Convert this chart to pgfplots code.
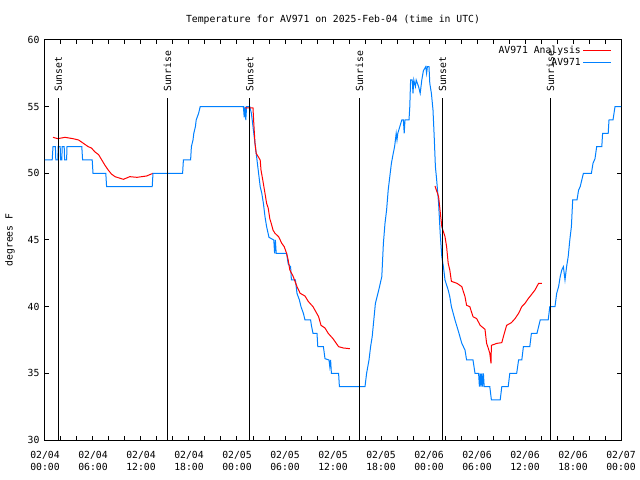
\documentclass[border=0pt]{standalone}
\usepackage{pgfplots}
\pgfplotsset{compat=1.18}
\usepackage{fontspec}
\setmainfont{DejaVu Sans Mono}
\definecolor{avblue}{RGB}{0,128,255}
\newcommand{\gfont}{\fontsize{9.8}{12}\selectfont}
\begin{document}
\begin{tikzpicture}
\begin{axis}[name=ax, scale only axis, width=576bp, height=400bp,
  xmin=0, xmax=72, ymin=30, ymax=60,
  font=\gfont,
  /pgf/number format/assume math mode=true,
  xtick={0,6,...,72}, minor x tick num=2, ytick={30,35,...,60},
  xticklabels={02/04\\00:00,02/04\\06:00,02/04\\12:00,02/04\\18:00,02/05\\00:00,02/05\\06:00,02/05\\12:00,02/05\\18:00,02/06\\00:00,02/06\\06:00,02/06\\12:00,02/06\\18:00,02/07\\00:00},
  xticklabel style={align=center, font=\gfont, yshift=-8bp},
  yticklabel style={font=\gfont, xshift=-2bp},
  tick align=inside, major tick length=4bp, minor tick length=4bp,
  tick style={black, line width=1bp},
  axis line style={line width=1bp},
  title={Temperature for AV971 on 2025-Feb-04 (time in UTC)},
  title style={at={(axis description cs:0.5,1)}, yshift=14bp, anchor=center, font=\gfont},
  ylabel={degrees F},
  ylabel style={at={(axis description cs:-0.0608,0.5)}, anchor=center, font=\gfont},
  legend plot pos=right, legend cell align=right,
  legend style={draw=none, fill=none, at={(axis description cs:1,1)}, anchor=north east, xshift=-6bp, yshift=-2bp, font=\gfont, row sep=-1bp},
  legend image code/.code={\draw[#1] (0bp,0bp) -- (28bp,0bp);},
]
% AV971 Analysis (red)
\addplot[red, line width=1bp] coordinates {
(1.0,52.7) (1.6,52.6) (2.5,52.7) (3.5,52.6) (4.2,52.5) (4.8,52.25) (5.4,52) (5.8,51.9) (6.25,51.6) (6.7,51.4) (7.1,51) (7.5,50.6) (7.9,50.25) (8.3,49.95) (8.75,49.75) (9.8,49.55) (10.6,49.75) (11.5,49.7) (12.7,49.8) (13.5,50.0)
};
\addlegendentry{AV971 Analysis}
% AV971 (blue)
\addplot[avblue, line width=1bp] coordinates {
(0,51) (0.9,51) (1.0,52) (1.3,52) (1.35,51) (1.6,51) (1.65,52) (1.9,52) (1.95,51) (2.1,51) (2.15,52) (2.4,52) (2.45,51) (2.7,51) (2.75,52) (4.6,52) (4.7,51) (5.9,51) (6.0,50) (7.6,50) (7.7,49) (13.4,49) (13.5,50) (17.2,50) (17.3,51) (18.2,51) (18.3,52) (18.5,52.5) (18.6,53) (18.8,53.5) (18.9,54) (19.2,54.5) (19.4,55) (24.8,55) (24.9,54.2) (25.0,55) (25.1,54) (25.2,55) (25.6,55) (25.8,54.5) (26.0,53.5) (26.2,52.5) (26.5,51) (26.7,50) (26.9,49) (27.1,48.5) (27.3,47.75) (27.5,46.75) (27.7,46) (28.0,45.2) (28.6,45) (28.7,44) (28.8,45) (28.9,44) (30.2,44) (30.4,43.2) (30.7,43) (30.8,42) (31.3,42) (31.5,41) (31.8,40.5) (32.0,40) (32.3,39.5) (32.5,39) (33.2,39) (33.3,38.6) (33.5,38) (34.0,38) (34.1,37) (34.8,37) (35.0,36.1) (35.5,36) (35.6,35.5) (35.7,36) (35.8,35) (36.7,35) (36.8,34) (40.0,34) (40.2,35) (40.5,36) (40.7,37) (40.9,37.75) (41.1,39) (41.3,40.25) (41.7,41.2) (42.1,42.25) (42.3,44.75) (42.5,46.25) (42.7,47.25) (42.9,48.75) (43.1,49.75) (43.3,50.75) (43.5,51.4) (43.7,52) (43.9,53) (44.0,52.5) (44.1,53) (44.6,54) (44.8,54) (44.9,53) (45.0,54) (45.5,54) (45.6,55) (45.7,57) (45.9,57) (46.0,56) (46.1,57) (46.3,56.5) (46.4,57) (46.7,56.5) (46.9,56) (47.1,57) (47.3,57.7) (47.6,58) (47.7,57.5) (47.8,58) (48.0,58) (48.1,56.75) (48.3,56) (48.5,54.75) (48.65,52.75) (48.8,50.5) (48.96,49.5) (49.2,47.75) (49.4,45.5) (49.6,43.75) (49.8,43) (50.0,42) (50.4,41.25) (50.6,40.75) (50.8,40) (51.25,39) (51.7,38.1) (52.1,37.25) (52.5,36.75) (52.7,36) (53.5,36) (53.75,35) (54.2,35) (54.3,34) (54.4,35) (54.5,34) (54.6,35) (54.7,34) (54.8,35) (54.9,34) (55.6,34) (55.8,33) (56.9,33) (57.1,34) (57.9,34) (58.1,35) (58.96,35) (59.2,36) (59.6,36) (59.8,37) (60.6,37) (60.8,38) (61.5,38) (61.9,39) (62.9,39) (63.1,40) (63.75,40) (63.96,41) (64.2,41.5) (64.4,42.25) (64.6,42.75) (64.8,43) (65.0,42) (65.2,43) (65.4,43.75) (65.6,45) (65.8,46) (65.96,48) (66.5,48) (66.7,48.75) (66.9,49) (67.3,50) (68.3,50) (68.5,50.75) (68.75,51.1) (68.96,52) (69.6,52) (69.7,53) (70.4,53) (70.5,54) (71.0,54) (71.25,55) (72,55)
};
\addlegendentry{AV971}
\addplot[red, line width=1bp, forget plot] coordinates {
(25.0,54.9) (26.0,54.9) (26.1,53.75) (26.25,52.25) (26.4,51.5) (26.9,51) (27.0,50.25) (27.25,49.4) (27.5,48.5) (27.7,47.75) (27.9,47.4) (28.1,46.6) (28.3,46.2) (28.5,45.75) (28.75,45.5) (29.2,45.25) (29.6,44.75) (29.9,44.5) (30.2,44) (30.4,43.5) (30.6,42.75) (31.0,42.3) (31.5,41.5) (31.9,41) (32.5,40.8) (32.9,40.4) (33.5,40) (34.2,39.25) (34.5,38.6) (35.0,38.4) (35.4,38) (36.0,37.6) (36.7,37) (37.3,36.9) (38.1,36.85)
};
\addplot[red, line width=1bp, forget plot] coordinates {
(48.75,49.05) (49.2,48.25) (49.6,46) (50.0,45.25) (50.2,44.5) (50.4,43.25) (50.6,42.75) (50.8,41.9) (51.5,41.75) (52.1,41.5) (52.5,40.75) (52.7,40.1) (53.1,40) (53.5,39.25) (53.96,39.1) (54.4,38.6) (54.8,38.4) (55.0,38.3) (55.2,37.25) (55.4,36.9) (55.6,36.5) (55.75,35.75) (55.8,37.1) (56.5,37.25) (57.1,37.3) (57.3,37.75) (57.7,38.6) (58.3,38.8) (58.75,39.1) (59.2,39.5) (59.6,40) (60.0,40.25) (60.4,40.6) (60.8,40.9) (61.25,41.25) (61.7,41.75) (62.1,41.75)
};
% Sun lines
\addplot[black, line width=1bp, forget plot] coordinates {(1.67,30) (1.67,55.65)};
\addplot[black, line width=1bp, forget plot] coordinates {(15.3,30) (15.3,55.65)};
\addplot[black, line width=1bp, forget plot] coordinates {(25.6,30) (25.6,55.65)};
\addplot[black, line width=1bp, forget plot] coordinates {(39.3,30) (39.3,55.65)};
\addplot[black, line width=1bp, forget plot] coordinates {(49.7,30) (49.7,55.65)};
\addplot[black, line width=1bp, forget plot] coordinates {(63.2,30) (63.2,55.65)};
\node[rotate=90, anchor=west, inner sep=0pt, font=\gfont] at (axis cs:1.67,56.1) {Sunset};
\node[rotate=90, anchor=west, inner sep=0pt, font=\gfont] at (axis cs:15.3,56.1) {Sunrise};
\node[rotate=90, anchor=west, inner sep=0pt, font=\gfont] at (axis cs:25.6,56.1) {Sunset};
\node[rotate=90, anchor=west, inner sep=0pt, font=\gfont] at (axis cs:39.3,56.1) {Sunrise};
\node[rotate=90, anchor=west, inner sep=0pt, font=\gfont] at (axis cs:49.7,56.1) {Sunset};
\node[rotate=90, anchor=west, inner sep=0pt, font=\gfont] at (axis cs:63.2,56.1) {Sunrise};
\end{axis}
\pgfresetboundingbox
\path[use as bounding box] ([xshift=-45bp,yshift=-40bp]ax.south west) rectangle ([xshift=19bp,yshift=40bp]ax.north east);
\end{tikzpicture}
\end{document}
